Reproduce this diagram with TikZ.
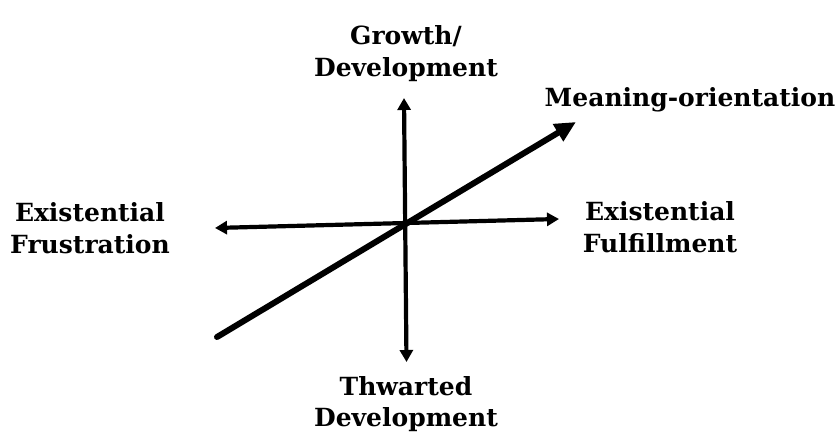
\documentclass[tikz,border=0pt]{standalone}
\usepackage{fontspec}
\setmainfont{DejaVu Serif}
\usetikzlibrary{arrows.meta}
\begin{document}
\begin{tikzpicture}[x=1pt,y=-1pt,
  label text/.style={font=\bfseries\fontsize{25}{32}\selectfont, align=center, anchor=base, inner sep=0pt},
  axis/.style={line width=4.2pt, {Triangle[length=12pt,width=13pt]}-{Triangle[length=12pt,width=13pt]}},
  meaning axis/.style={line width=6pt, line cap=round, -{Triangle[length=21pt,width=19pt]}}]
  \useasboundingbox (0,0) rectangle (836,438);
  % axis end points
  \coordinate (top) at (404,98);
  \coordinate (bottom) at (406.5,362);
  \coordinate (left) at (215,228);
  \coordinate (right) at (559,219);
  \coordinate (lowstart) at (217,337);
  \coordinate (meantip) at (576,122);
  % axes
  \draw[axis] (bottom) -- (top);
  \draw[axis] (left) -- (right);
  \draw[meaning axis] (lowstart) -- (meantip);
  % labels (anchored at the baseline of their last line)
  \node[label text] (growth) at (406,77) {Growth/\\Development};
  \node[label text] (meaning) at (690,107) {Meaning-orientation};
  \node[label text] (frustration) at (90,254) {Existential\\Frustration};
  \node[label text] (fulfillment) at (660,253) {Existential\\Fulfillment};
  \node[label text] (thwarted) at (406,427) {Thwarted\\Development};
\end{tikzpicture}
\end{document}
